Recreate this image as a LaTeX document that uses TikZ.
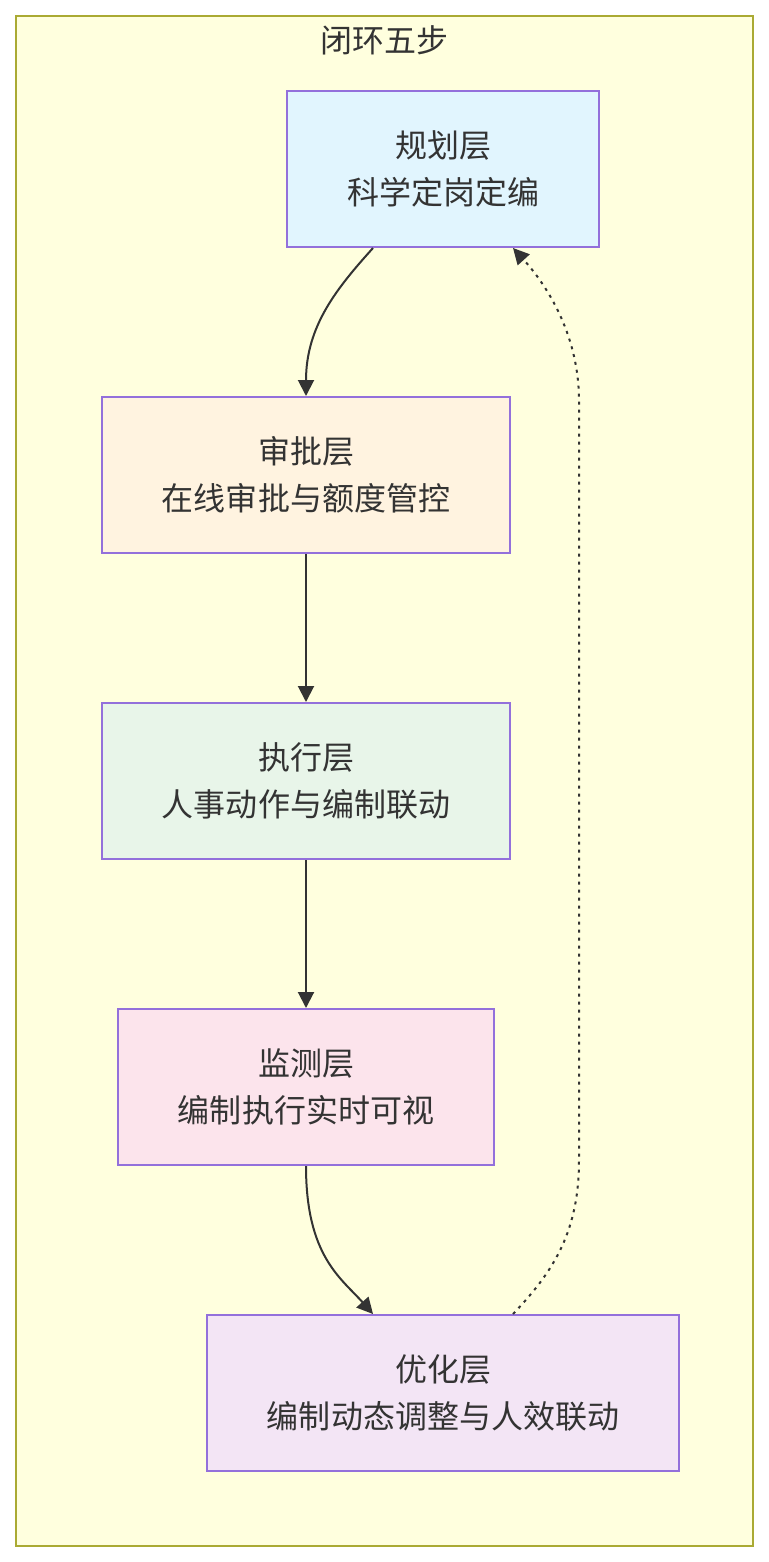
\documentclass[tikz,border=0pt]{standalone}
\usepackage{fontspec}
\newfontfamily\cjk{Noto Sans CJK SC}
\usetikzlibrary{arrows.meta,calc}
\definecolor{frameFill}{HTML}{FFFFDE}
\definecolor{frameLine}{HTML}{AAAA33}
\definecolor{boxLine}{HTML}{9370DB}
\definecolor{txt}{HTML}{333333}
\definecolor{cA}{HTML}{E1F5FE}
\definecolor{cB}{HTML}{FFF3E0}
\definecolor{cC}{HTML}{E8F5E9}
\definecolor{cD}{HTML}{FCE4EC}
\definecolor{cE}{HTML}{F3E5F5}
\tikzset{
  layerbox/.style={draw=boxLine, line width=1bp, minimum height=78bp, inner sep=0pt,
    align=center, text=txt, font=\cjk\fontsize{16bp}{23.5bp}\selectfont},
  flow/.style={draw=txt, line width=1bp, -{Triangle[length=8bp,width=8bp]}},
  backflow/.style={flow, dash pattern=on 1.5bp off 2.5bp}
}
\begin{document}
\begin{tikzpicture}[x=0.5bp,y=-0.5bp]
\useasboundingbox (0,0) rectangle (769,1562);
\fill[white] (0,0) rectangle (769,1562);
\draw[fill=frameFill, draw=frameLine, line width=1bp] (16,16) rectangle (753,1546);
\node[text=txt, font=\cjk\fontsize{16bp}{20bp}\selectfont] (title) at (384,40) {闭环五步};
\node[layerbox, fill=cA, minimum width=156bp] (p) at (443,169) {规划层\\科学定岗定编};
\node[layerbox, fill=cB, minimum width=204bp] (a) at (306,475) {审批层\\在线审批与额度管控};
\node[layerbox, fill=cC, minimum width=204bp] (e) at (306,781) {执行层\\人事动作与编制联动};
\node[layerbox, fill=cD, minimum width=188bp] (m) at (306,1087) {监测层\\编制执行实时可视};
\node[layerbox, fill=cE, minimum width=236bp] (o) at (443,1393) {优化层\\编制动态调整与人效联动};
\draw[flow] ([xshift=-35bp]p.south) .. controls +(-18bp,-20bp) and +(0,35bp) .. (a.north);
\draw[flow] (a.south) -- (e.north);
\draw[flow] (e.south) -- (m.north);
\draw[flow] (m.south) .. controls +(0,-45bp) and +(-16bp,18bp) .. ([xshift=-35bp]o.north);
\draw[backflow] ([xshift=35bp]o.north) .. controls +(21bp,22bp) and +(0,-35bp) .. ($(o.north)+(68bp,77bp)$)
  -- ($(p.south)+(68bp,-76.5bp)$) .. controls +(0,35bp) and +(15bp,-16.5bp) .. ([xshift=35bp]p.south);
\end{tikzpicture}
\end{document}
